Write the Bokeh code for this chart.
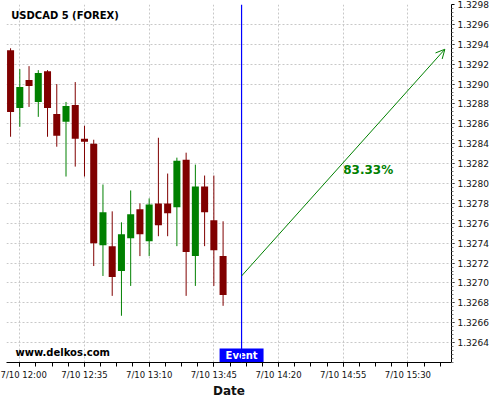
import numpy as np
from bokeh.plotting import figure
from bokeh.models import (FixedTicker, Span, Arrow, OpenHead, Label,
                          ColumnDataSource, PrintfTickFormatter, Range1d)
from bokeh.core.properties import value
from bokeh.embed import file_html
from bokeh.resources import INLINE

# ---------------- data ----------------
title_text = "USDCAD 5 (FOREX)"
watermark = "www.delkos.com"
times = ["11:55", "12:00", "12:05", "12:10", "12:15", "12:20", "12:25", "12:30",
         "12:35", "12:40", "12:45", "12:50", "12:55", "13:00", "13:05", "13:10",
         "13:15", "13:20", "13:25", "13:30", "13:35", "13:40", "13:45", "13:50"]
opens  = [1.32934, 1.32876, 1.32904, 1.32882, 1.32913, 1.32870, 1.32862, 1.32879,
          1.32845, 1.32840, 1.32738, 1.32737, 1.32712, 1.32745, 1.32774, 1.32742,
          1.32780, 1.32780, 1.32776, 1.32824, 1.32727, 1.32797, 1.32763, 1.32727]
highs  = [1.32936, 1.32915, 1.32918, 1.32914, 1.32914, 1.32900, 1.32882, 1.32902,
          1.32858, 1.32844, 1.32799, 1.32772, 1.32761, 1.32793, 1.32780, 1.32785,
          1.32846, 1.32810, 1.32826, 1.32831, 1.32819, 1.32808, 1.32808, 1.32762]
lows   = [1.32847, 1.32857, 1.32877, 1.32867, 1.32847, 1.32837, 1.32807, 1.32817,
          1.32807, 1.32717, 1.32707, 1.32687, 1.32667, 1.32697, 1.32727, 1.32727,
          1.32747, 1.32747, 1.32737, 1.32687, 1.32697, 1.32737, 1.32697, 1.32677]
closes = [1.32872, 1.32897, 1.32898, 1.32911, 1.32876, 1.32848, 1.32878, 1.32845,
          1.32842, 1.32740, 1.32771, 1.32706, 1.32749, 1.32769, 1.32749, 1.32779,
          1.32758, 1.32770, 1.32823, 1.32731, 1.32797, 1.32771, 1.32733, 1.32688]

x_tick_times = ["12:00", "12:35", "13:10", "13:45", "14:20", "14:55", "15:30"]
x_tick_labels = ["7/10 12:00", "7/10 12:35", "7/10 13:10", "7/10 13:45",
                 "7/10 14:20", "7/10 14:55", "7/10 15:30"]
y_ticks = [1.3264, 1.3266, 1.3268, 1.3270, 1.3272, 1.3274, 1.3276, 1.3278, 1.3280,
           1.3282, 1.3284, 1.3286, 1.3288, 1.3290, 1.3292, 1.3294, 1.3296, 1.3298]

event_time = "14:00"
event_label = "Event"
forecast_start_time, forecast_start_price = "14:00", 1.32707
forecast_end_time, forecast_end_price = "15:50", 1.32935
forecast_label = "83.33%"
forecast_label_time, forecast_label_price = "14:55", 1.32814

x_view = ("11:52.8", "15:53.6")
y_view = (1.32620, 1.32980)


def to_min(s):
    h, m = s.split(":")
    return (int(h) - 12) * 60 + float(m)


RED = "#800000"
GREEN = "#008000"
FONT = "DejaVu Sans"

xs = [to_min(t) for t in times]
up = [c >= o for o, c in zip(opens, closes)]
src = ColumnDataSource(dict(
    x=xs, high=highs, low=lows,
    top=[max(o, c) for o, c in zip(opens, closes)],
    bottom=[min(o, c) for o, c in zip(opens, closes)],
    color=[GREEN if u else RED for u in up],
))

p = figure(width=500, height=400, output_backend="svg", toolbar_location=None,
           x_range=Range1d(to_min(x_view[0]), to_min(x_view[1])),
           y_range=Range1d(*y_view), y_axis_location="right",
           min_border_left=6, min_border_top=4, min_border_right=49,
           min_border_bottom=36, margin=(0, 0, 0, 0))
p.outline_line_color = None
p.background_fill_color = "white"
p.border_fill_color = "white"

# axes
xt = [to_min(t) for t in x_tick_times]
step = (xt[1] - xt[0]) / 4
minor_x = list(np.arange(xt[0] - step, to_min(x_view[1]), step))
p.xaxis.ticker = FixedTicker(ticks=xt, minor_ticks=minor_x)
p.xaxis.major_label_overrides = {v: l for v, l in zip(xt, x_tick_labels)}
ystep = (y_ticks[1] - y_ticks[0]) / 5
minor_y = list(np.arange(y_ticks[0] - 5 * ystep, y_view[1], ystep))
p.yaxis.ticker = FixedTicker(ticks=y_ticks, minor_ticks=minor_y)
p.yaxis.formatter = PrintfTickFormatter(format="%.4f")

for ax in (p.xaxis[0], p.yaxis[0]):
    ax.axis_line_color = "black"
    ax.axis_line_width = 1
    ax.major_tick_in = 0
    ax.minor_tick_in = 0
    ax.major_tick_line_color = "black"
    ax.major_label_text_font = FONT
    ax.major_label_text_color = "#111111"

p.xaxis.major_tick_out = 4
p.xaxis.minor_tick_out = 4
p.xaxis.minor_tick_line_color = "black"
p.xaxis.major_label_text_font_size = "8.5px"
p.xaxis.major_label_standoff = 3
p.xaxis.axis_label = "Date"
p.xaxis.axis_label_text_font = FONT
p.xaxis.axis_label_text_font_style = "bold"
p.xaxis.axis_label_text_font_size = "12px"
p.xaxis.axis_label_text_color = "#111111"
p.xaxis.axis_label_standoff = 1

p.yaxis.major_tick_out = 3
p.yaxis.minor_tick_out = 2
p.yaxis.minor_tick_line_color = "#777777"
p.yaxis.major_label_text_font_size = "9px"
p.yaxis.major_label_standoff = 3

for g in (p.xgrid[0], p.ygrid[0]):
    g.grid_line_color = "#c8c8c8"
    g.grid_line_dash = "2 2"
    g.grid_line_width = 1

# candles
p.segment(x0="x", y0="high", x1="x", y1="low", line_color="color",
          line_width=1, source=src)
p.vbar(x="x", width=3.8, top="top", bottom="bottom", fill_color="color",
       line_color=None, source=src)

# event
ev = to_min(event_time)
p.add_layout(Span(location=ev, dimension="height", line_color="#0000ff",
                  line_width=1.2))
box_half = 11.9
p.quad(left=[ev - box_half], right=[ev + box_half], bottom=[y_view[0]],
       top=[y_view[0] + 0.00014], fill_color="#0000ff", line_color=None)
p.text(x=[ev], y=[y_view[0] + 0.00007], text=[event_label],
       text_font=value(FONT), text_font_style="bold", text_font_size="10px",
       text_color="white", text_align="center", text_baseline="middle")

# forecast arrow
p.add_layout(Arrow(x_start=to_min(forecast_start_time), y_start=forecast_start_price,
                   x_end=to_min(forecast_end_time), y_end=forecast_end_price,
                   line_color=GREEN, line_width=1,
                   end=OpenHead(size=9, line_color=GREEN, line_width=1)))
p.add_layout(Label(x=to_min(forecast_label_time), y=forecast_label_price,
                   text=forecast_label, text_font=FONT, text_font_style="bold",
                   text_font_size="12px", text_color=GREEN,
                   text_align="left", text_baseline="middle"))

# title / watermark
p.add_layout(Label(x=4.7, y=347.5, x_units="screen", y_units="screen",
                   text=title_text, text_font=FONT, text_font_style="bold",
                   text_font_size="10px", text_color="black",
                   text_baseline="middle"))
p.add_layout(Label(x=9, y=10.5, x_units="screen", y_units="screen",
                   text=watermark, text_font=FONT, text_font_style="bold",
                   text_font_size="10px", text_color="black",
                   text_baseline="middle"))

open("out.html", "w").write(file_html(p, INLINE))
